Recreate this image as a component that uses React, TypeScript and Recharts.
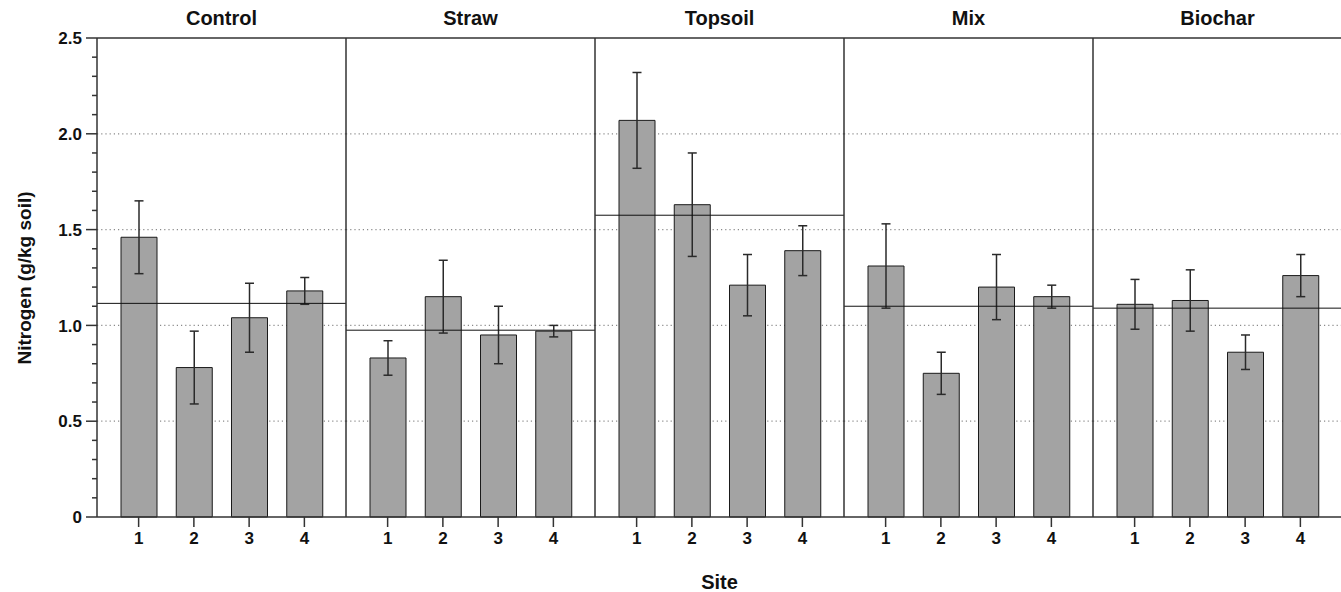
import { BarChart, Bar, XAxis, YAxis, CartesianGrid, ErrorBar, ReferenceLine } from 'recharts'

const treatments = ['Control', 'Straw', 'Topsoil', 'Mix', 'Biochar']
const sites = ['1', '2', '3', '4']

// mean nitrogen per site (g/kg soil)
const controlN = [1.46, 0.78, 1.04, 1.18]
const strawN = [0.83, 1.15, 0.95, 0.97]
const topsoilN = [2.07, 1.63, 1.21, 1.39]
const mixN = [1.31, 0.75, 1.2, 1.15]
const biocharN = [1.11, 1.13, 0.86, 1.26]

// error bar half-lengths
const controlErr = [0.19, 0.19, 0.18, 0.07]
const strawErr = [0.09, 0.19, 0.15, 0.03]
const topsoilErr = [0.25, 0.27, 0.16, 0.13]
const mixErr = [0.22, 0.11, 0.17, 0.06]
const biocharErr = [0.13, 0.16, 0.09, 0.11]

// treatment mean lines
const treatmentMeans = [1.115, 0.975, 1.575, 1.1, 1.09]

const yTicks = [
  0, 0.1, 0.2, 0.3, 0.4, 0.5, 0.6, 0.7, 0.8, 0.9, 1.0, 1.1, 1.2, 1.3,
  1.4, 1.5, 1.6, 1.7, 1.8, 1.9, 2.0, 2.1, 2.2, 2.3, 2.4, 2.5,
]
const yTickLabels = ['0', '0.5', '1.0', '1.5', '2.0', '2.5']
const gridValues = [0.5, 1.0, 1.5, 2.0]

const values = [controlN, strawN, topsoilN, mixN, biocharN]
const errors = [controlErr, strawErr, topsoilErr, mixErr, biocharErr]

const FONT = '"Liberation Sans", Arial, Helvetica, sans-serif'
const AXIS_W = 97
const PANEL_W = 249
const PLOT_TOP = 38
const CHART_H = 557
const AXIS_COLOR = '#333'

function YTick(props: any) {
  const { x, y, payload } = props
  const half = payload.value * 2
  const major = Math.abs(half - Math.round(half)) < 1e-6
  if (!major) {
    return <line x1={x - 5} x2={x} y1={y} y2={y} stroke={AXIS_COLOR} strokeWidth={1.5} />
  }
  return (
    <g>
      <line x1={x - 11} x2={x} y1={y} y2={y} stroke={AXIS_COLOR} strokeWidth={1.5} />
      <text
        x={x - 15}
        y={y}
        dy="0.36em"
        textAnchor="end"
        fontSize={17}
        fontWeight="bold"
        fontFamily={FONT}
        fill="#111"
      >
        {yTickLabels[Math.round(half)]}
      </text>
    </g>
  )
}

function NoTick() {
  return <g />
}

function Panel({ index }: { index: number }) {
  const first = index === 0
  const data = sites.map((site, i) => ({
    site,
    n: values[index][i],
    err: errors[index][i],
  }))
  // panels after the first get a 1px-wide axis so its line still renders
  const axisW = first ? AXIS_W : 1
  const width = PANEL_W + axisW
  const left = first ? 0 : AXIS_W + index * PANEL_W - 1

  return (
    <div style={{ position: 'absolute', left, top: 0 }}>
      <BarChart
        width={width}
        height={CHART_H}
        data={data}
        margin={{ top: PLOT_TOP, right: 0, bottom: 0, left: 0 }}
        barSize={36}
      >
        <CartesianGrid
          vertical={false}
          horizontalValues={gridValues}
          stroke="#8a8a8a"
          strokeWidth={1.2}
          strokeDasharray="1.2 3"
        />
        <XAxis
          dataKey="site"
          interval={0}
          padding={{ left: 14, right: 14 }}
          height={CHART_H - 517}
          tickSize={10}
          tickMargin={5}
          tickLine={{ stroke: AXIS_COLOR, strokeWidth: 1.5 }}
          axisLine={{ stroke: AXIS_COLOR, strokeWidth: 1.5 }}
          tick={{ fill: '#111', fontSize: 17, fontWeight: 'bold', fontFamily: FONT }}
        />
        <YAxis
          domain={[0, 2.5]}
          ticks={yTicks}
          interval={0}
          width={axisW}
          tickLine={false}
          tickSize={0}
          tickMargin={0}
          tick={first ? <YTick /> : <NoTick />}
          axisLine={{ stroke: AXIS_COLOR, strokeWidth: 1.5 }}
        />
        <Bar dataKey="n" fill="#a3a3a3" stroke="#1a1a1a" strokeWidth={1} isAnimationActive={false}>
          <ErrorBar dataKey="err" width={4.5} stroke="#2a2a2a" strokeWidth={1.5} />
        </Bar>
        <ReferenceLine y={treatmentMeans[index]} stroke="#111" strokeWidth={1} />
        <ReferenceLine y={2.5} stroke={AXIS_COLOR} strokeWidth={1.5} ifOverflow="visible" />
      </BarChart>
      <div
        style={{
          position: 'absolute',
          left: axisW,
          top: 7,
          width: PANEL_W,
          textAlign: 'center',
          fontFamily: FONT,
          fontWeight: 'bold',
          fontSize: 20,
          lineHeight: '22px',
          color: '#111',
        }}
      >
        {treatments[index]}
      </div>
    </div>
  )
}

export default function App() {
  return (
    <div
      style={{
        position: 'absolute',
        left: 0,
        top: 0,
        width: 1341,
        height: 592,
        overflow: 'hidden',
        background: '#fff',
      }}
    >
      {treatments.map((t, i) => (
        <Panel key={t} index={i} />
      ))}
      <div
        style={{
          position: 'absolute',
          left: 25 - 150,
          top: 278 - 11,
          width: 300,
          height: 22,
          lineHeight: '22px',
          textAlign: 'center',
          transform: 'rotate(-90deg)',
          fontFamily: FONT,
          fontWeight: 'bold',
          fontSize: 19,
          color: '#111',
        }}
      >
        Nitrogen (g/kg soil)
      </div>
      <div
        style={{
          position: 'absolute',
          left: AXIS_W,
          top: 571,
          width: PANEL_W * 5,
          textAlign: 'center',
          fontFamily: FONT,
          fontWeight: 'bold',
          fontSize: 20,
          lineHeight: '22px',
          color: '#111',
        }}
      >
        Site
      </div>
    </div>
  )
}
